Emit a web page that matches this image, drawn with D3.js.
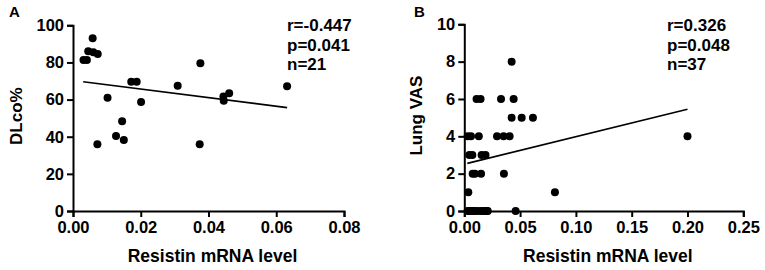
<!DOCTYPE html>
<meta charset="utf-8">
<style>
  body { margin: 0; background: #fff; }
  svg text { font-family: Arial, "Liberation Sans", sans-serif; font-weight: bold; fill: #000; }
</style>
<svg width="765" height="270"></svg>
<script src="https://d3js.org/d3.v7.min.js"></script>
<script>
// panel A: DLco% vs resistin
var aX = [0.0031, 0.0041, 0.0058, 0.0045, 0.0060, 0.0073, 0.0072, 0.0102, 0.0127, 0.0145, 0.0150,
          0.0172, 0.0188, 0.0201, 0.0309, 0.0376, 0.0374, 0.0444, 0.0445, 0.0461, 0.0632];
var aY = [81.3, 81.3, 93, 86, 85.5, 84.5, 36, 61, 40.4, 48.3, 38.2,
          69.6, 69.6, 58.7, 67.5, 79.5, 36, 61.6, 59.4, 63.4, 67.2];
var aFitX = [0.003, 0.0632];
var aFitY = [69.6, 55.7];
var aStats = ["r=-0.447", "p=0.041", "n=21"];
var aXTicks = [0, 0.02, 0.04, 0.06, 0.08];
var aYTicks = [0, 20, 40, 60, 80, 100];

// panel B: Lung VAS vs resistin
var bX = [0.003, 0.006, 0.013, 0.0293, 0.0352, 0.0406, 0.200,
          0.0045, 0.0072, 0.0155, 0.019,
          0.011, 0.0146, 0.0329, 0.0442,
          0.0075, 0.0095, 0.015, 0.0355,
          0.0036, 0.0812,
          0.0424,
          0.0424, 0.0514, 0.0615,
          0.003, 0.0045, 0.006, 0.0075, 0.0096, 0.011, 0.014, 0.0165, 0.018, 0.020, 0.021, 0.046];
var bY = [4, 4, 4, 4, 4, 4, 4,
          3, 3, 3, 3,
          6, 6, 6, 6,
          2, 2, 2, 2,
          1, 1,
          8,
          5, 5, 5,
          0, 0, 0, 0, 0, 0, 0, 0, 0, 0, 0, 0];
var bFitX = [0.0027, 0.200];
var bFitY = [2.55, 5.45];
var bStats = ["r=0.326", "p=0.048", "n=37"];
var bXTicks = [0, 0.05, 0.10, 0.15, 0.20, 0.25];
var bYTicks = [0, 2, 4, 6, 8, 10];

var svg = d3.select("svg");

function panel(o) {
  var g = svg.append("g");
  var x = d3.scaleLinear().domain(o.xDom).range([o.left, o.right]);
  var y = d3.scaleLinear().domain(o.yDom).range([o.bottom, o.top]);

  var xa = g.append("g").attr("transform", "translate(0," + o.bottom + ")")
    .call(d3.axisBottom(x).tickValues(o.xTicks).tickFormat(d3.format(".2f")).tickSizeOuter(0).tickSize(6).tickPadding(4));
  var ya = g.append("g").attr("transform", "translate(" + o.left + ",0)")
    .call(d3.axisLeft(y).tickValues(o.yTicks).tickFormat(d3.format("d")).tickSizeOuter(0).tickSize(6).tickPadding(3));
  [xa, ya].forEach(function(a) {
    a.select(".domain").attr("stroke", "#000").attr("stroke-width", 2);
    a.selectAll(".tick line").attr("stroke", "#000").attr("stroke-width", 2);
    a.selectAll(".tick text").style("font-size", "16.5px").style("font-weight", "bold").attr("fill", "#000");
  });

  var pts = d3.range(o.xs.length).map(function(i) { return [o.xs[i], o.ys[i]]; });
  g.selectAll("circle.pt").data(pts).enter().append("circle")
    .attr("class", "pt")
    .attr("cx", function(d) { return x(d[0]); })
    .attr("cy", function(d) { return y(d[1]); })
    .attr("r", 4)
    .attr("fill", "#000");

  var line = d3.line().x(function(d) { return x(d[0]); }).y(function(d) { return y(d[1]); });
  g.append("path")
    .datum([[o.fitX[0], o.fitY[0]], [o.fitX[1], o.fitY[1]]])
    .attr("d", line)
    .attr("fill", "none")
    .attr("stroke", "#000")
    .attr("stroke-width", 1.7);

  g.append("text").attr("x", (o.left + o.right) / 2 + 4).attr("y", 262)
    .attr("text-anchor", "middle").style("font-size", "17.5px").text("Resistin mRNA level");
  g.append("text")
    .attr("transform", "translate(" + o.ytX + "," + ((o.top + o.bottom) / 2 - 2) + ") rotate(-90)")
    .attr("text-anchor", "middle").style("font-size", "17px").text(o.yTitle);

  g.selectAll("text.stat").data(o.stats).enter().append("text")
    .attr("class", "stat")
    .attr("x", o.statX)
    .attr("y", function(d, i) { return 31 + i * 19.5; })
    .style("font-size", "17px")
    .text(function(d) { return d; });

  g.append("text").attr("x", o.labX).attr("y", 17).style("font-size", "15px").text(o.label);
}

panel({
  xDom: [0, 0.08], yDom: [0, 100], left: 73, right: 344, top: 25.3, bottom: 211,
  xTicks: aXTicks, yTicks: aYTicks, xs: aX, ys: aY, fitX: aFitX, fitY: aFitY,
  yTitle: "DLco%", ytX: 22, stats: aStats, statX: 287, label: "A", labX: 9
});
panel({
  xDom: [0, 0.25], yDom: [0, 10], left: 464.3, right: 743.3, top: 24.3, bottom: 211,
  xTicks: bXTicks, yTicks: bYTicks, xs: bX, ys: bY, fitX: bFitX, fitY: bFitY,
  yTitle: "Lung VAS", ytX: 422, stats: bStats, statX: 667, label: "B", labX: 414
});
</script>
